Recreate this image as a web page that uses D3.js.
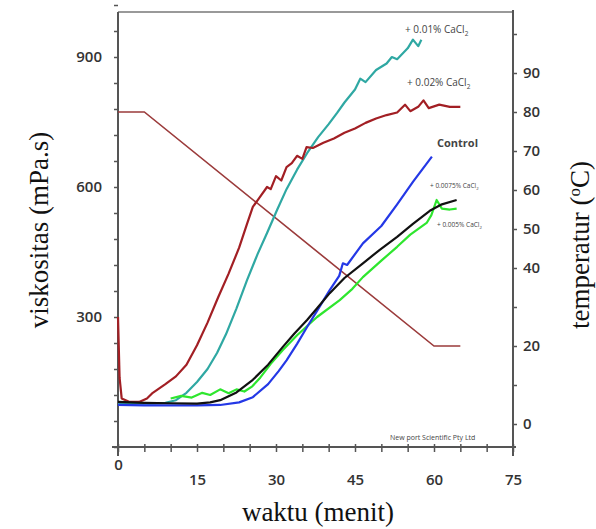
<!DOCTYPE html>
<html lang="id">
  <head>
    <meta charset="utf-8" />
    <title>Viskositas vs waktu</title>
    <style>
      body { margin: 0; background: #fff; }
      .tick text { font-family: "Open Sans", "DejaVu Sans", sans-serif; font-size: 15px; fill: #333; font-weight: 600; }
      .axis path, .axis line { stroke: #555; }
      .title { font-family: "Liberation Serif", "DejaVu Serif", serif; font-size: 27px; fill: #111; }
      .lbl { font-family: "Open Sans", "DejaVu Sans", sans-serif; fill: #444; }
    </style>
    <script src="https://d3js.org/d3.v7.min.js"></script>
  </head>
  <body>
    <div id="chart"></div>
    <script>
      // [menit, mPa.s]
      var series002 = [
        [0, 300], [0.3, 160], [0.7, 112], [2, 105], [4, 104], [5.5, 112], [6.6, 125],
        [9, 145], [11, 163], [13, 190], [15, 235], [17, 287], [19, 345], [21, 400], [23, 460],
        [24.5, 515], [25.6, 554], [27, 578], [28.3, 600], [29, 595], [30, 625], [31, 615],
        [32, 646], [33, 655], [34, 672], [35, 665], [35.8, 692], [37, 690], [39, 702],
        [41, 712], [43, 725], [45, 735], [47, 748], [49, 758], [51, 766], [53, 772],
        [54.5, 790], [55.5, 775], [57, 785], [58, 800], [59, 782], [61, 790], [63, 785], [65, 785]
      ];
      var series001 = [
        [0, 100], [3, 100], [6, 100], [9, 102], [11, 108], [13, 125], [15, 150],
        [17, 180], [18.8, 217], [20.5, 260], [22.5, 320], [24.5, 385], [26.5, 445],
        [28.3, 494], [30.2, 547], [32, 595], [34, 640], [35.9, 678], [38, 715],
        [40, 745], [41.6, 771], [43, 795], [45, 825], [46, 850], [47, 842], [49, 870],
        [51, 885], [52, 900], [53, 895], [55, 920], [56, 940], [57, 925], [57.6, 940]
      ];
      var seriesControl = [
        [0, 97], [5, 96], [10, 96], [15, 96], [19.4, 97], [23, 103], [25.6, 115],
        [28.5, 145], [30.5, 175], [32, 200], [34, 238], [35.9, 277], [38, 318],
        [40.2, 362], [42, 395], [42.7, 424], [43.5, 420], [46.5, 470], [50, 510],
        [53, 560], [56, 612], [59.6, 670]
      ];
      var series00075 = [
        [0, 104], [5, 102], [10, 101], [15, 100], [17.5, 103], [19.4, 108], [22.5, 126],
        [25.6, 155], [28.5, 190], [31.3, 231], [33.5, 262], [35.9, 293], [37.8, 320],
        [40.2, 355], [43, 390], [46.5, 424], [49.7, 455], [53, 485], [56, 515],
        [59.2, 545], [61.5, 560], [64.3, 570]
      ];
      var series0005 = [
        [10, 112], [12, 118], [14, 114], [16, 125], [17.5, 120], [19.4, 133], [21, 124],
        [22.5, 133], [24, 128], [25.5, 140], [27, 160], [29, 192], [31.3, 224],
        [34, 258], [37.8, 300], [42.1, 339], [44.5, 365], [46.5, 392], [50, 430],
        [53, 462], [55.5, 490], [58.6, 517], [59.5, 535], [60.5, 570], [61.5, 550],
        [63, 548], [64.3, 550]
      ];
      // [menit, °C]
      var temperature = [[0, 80], [5, 80], [60, 20], [65, 20]];

      var xTicks = d3.range(0, 76, 5);
      var xLabels = [0, 15, 30, 45, 60, 75];
      var yTicks = d3.range(0, 1021, 60);
      var yLabels = [300, 600, 900];
      var tTicks = d3.range(0, 101, 10);
      var tLabels = [0, 20, 40, 50, 60, 70, 80, 90];

      var width = 596, height = 529;
      var svg = d3.select("#chart").append("svg")
        .attr("width", width).attr("height", height);

      var x = d3.scaleLinear().domain([0, 75]).range([118, 513]);
      var y = d3.scaleLinear().domain([0, 900]).range([447, 57]);
      var yT = d3.scaleLinear().domain([0, 90]).range([424, 73]);

      // frame top
      svg.append("line").attr("x1", 118).attr("x2", 513).attr("y1", 12).attr("y2", 12)
        .attr("stroke", "#777").attr("stroke-width", 1.5);

      // bottom axis
      var xAxis = svg.append("g").attr("class", "axis")
        .attr("transform", "translate(0,447)")
        .call(d3.axisBottom(x).tickValues(xTicks).tickSizeInner(5).tickSizeOuter(0)
          .tickFormat(function (d) { return xLabels.indexOf(d) >= 0 ? d : ""; }));
      xAxis.select(".domain").attr("stroke-width", 2).attr("d", "M112,0H516");
      xAxis.selectAll(".tick line").attr("y1", -3).attr("stroke-width", 1.5);
      xAxis.selectAll(".tick text").attr("y", 27)
        .attr("dy", function (d) { return d === 0 ? "-0.3em" : "0.71em"; });

      // left axis
      var yAxis = svg.append("g").attr("class", "axis")
        .attr("transform", "translate(118,0)")
        .call(d3.axisLeft(y).tickValues(yTicks).tickSizeInner(4).tickSizeOuter(0)
          .tickFormat(function (d) { return yLabels.indexOf(d) >= 0 ? d : ""; }));
      yAxis.select(".domain").attr("stroke-width", 2).attr("d", "M0,12V456");
      yAxis.selectAll(".tick line").attr("x2", -4).attr("x1", 0).attr("stroke-width", 1.5);
      yAxis.selectAll(".tick text").attr("x", -16);

      // right axis (temperature)
      var tAxis = svg.append("g").attr("class", "axis")
        .attr("transform", "translate(513,0)")
        .call(d3.axisRight(yT).tickValues(tTicks).tickSizeInner(4).tickSizeOuter(0)
          .tickFormat(function (d) { return tLabels.indexOf(d) >= 0 ? d : ""; }));
      tAxis.select(".domain").attr("stroke-width", 2).attr("d", "M0,10V456");
      tAxis.selectAll(".tick line").attr("stroke-width", 1.5);
      tAxis.selectAll(".tick text").attr("x", 10);

      var line = d3.line().x(function (d) { return x(d[0]); }).y(function (d) { return y(d[1]); });
      var lineT = d3.line().x(function (d) { return x(d[0]); }).y(function (d) { return yT(d[1]); });

      svg.append("path").datum(temperature).attr("d", lineT)
        .attr("fill", "none").attr("stroke", "#9b3b3b").attr("stroke-width", 1.6);

      var curves = [
        { data: series001, color: "#2fa8a3" },
        { data: series002, color: "#a21f24" },
        { data: series0005, color: "#2ee62e" },
        { data: seriesControl, color: "#2438e6" },
        { data: series00075, color: "#111111" }
      ];
      svg.selectAll("path.curve").data(curves).enter().append("path")
        .attr("class", "curve")
        .attr("d", function (d) { return line(d.data); })
        .attr("fill", "none")
        .attr("stroke", function (d) { return d.color; })
        .attr("stroke-width", 2.2)
        .attr("stroke-linejoin", "round");

      // curve labels
      function label(tx, ty, pre, size, bold) {
        var t = svg.append("text").attr("class", "lbl").attr("x", tx).attr("y", ty)
          .style("font-size", size + "px").style("font-weight", bold ? 700 : 400);
        t.append("tspan").text(pre);
        if (pre !== "Control") {
          t.append("tspan").text("2").attr("dy", size * 0.3).style("font-size", (size * 0.65) + "px");
        }
      }
      label(405, 33, "+ 0.01% CaCl", 10, false);
      label(407, 86, "+ 0.02% CaCl", 10, false);
      label(437, 147, "Control", 11, true);
      label(430, 188, "+ 0.0075% CaCl", 6.5, false);
      label(437, 227, "+ 0.005% CaCl", 6.5, false);

      svg.append("text").attr("class", "lbl").attr("x", 390).attr("y", 440)
        .style("font-size", "7px").attr("fill", "#666").text("New port Scientific Pty Ltd");

      // axis titles
      svg.append("text").attr("class", "title")
        .attr("transform", "translate(48,230) rotate(-90)")
        .attr("text-anchor", "middle").text("viskositas (mPa.s)");
      var tt = svg.append("text").attr("class", "title")
        .attr("transform", "translate(589,245) rotate(-90)")
        .attr("text-anchor", "middle");
      tt.append("tspan").text("temperatur (");
      tt.append("tspan").text("o").attr("dy", -9).style("font-size", "17px");
      tt.append("tspan").text("C)").attr("dy", 9);
      svg.append("text").attr("class", "title")
        .attr("x", 318).attr("y", 521).attr("text-anchor", "middle").text("waktu (menit)");
    </script>
  </body>
</html>
